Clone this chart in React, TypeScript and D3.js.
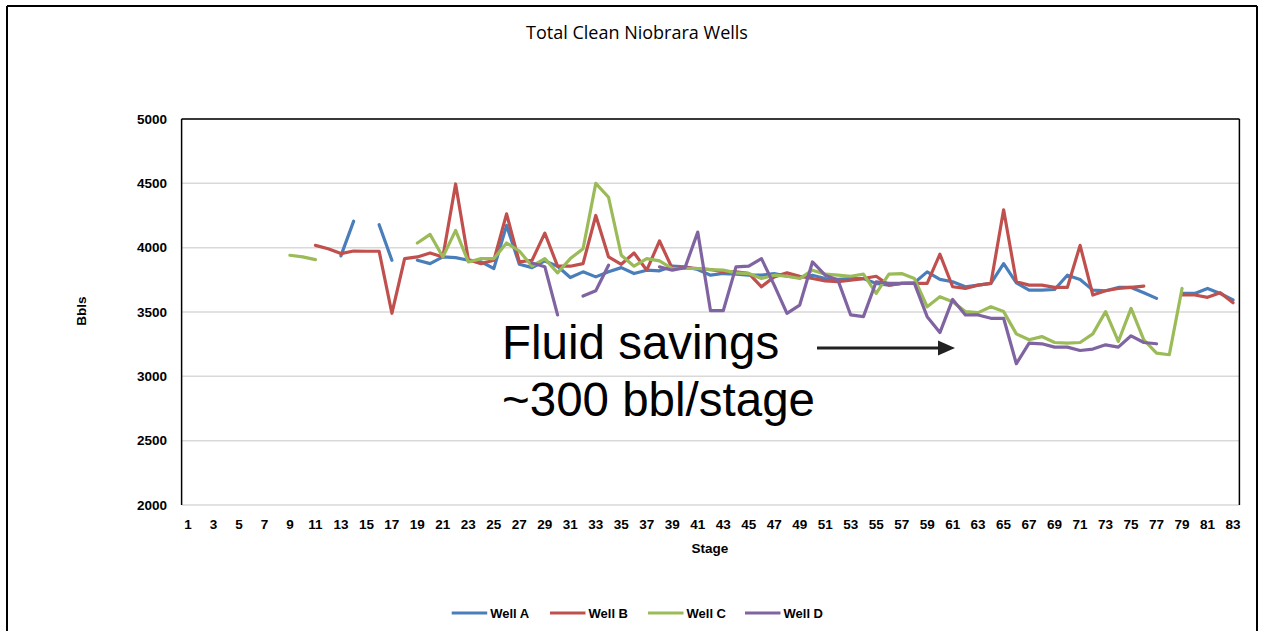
import React from "react";
import * as d3 from "d3";

const N = null;

const stages: number[] = d3.range(1, 84);

const yTicks: number[] = [2000, 2500, 3000, 3500, 4000, 4500, 5000];

const seriesNames: string[] = ["Well A", "Well B", "Well C", "Well D"];
const seriesColors: string[] = ["#4A7EBB", "#C0504D", "#9BBB59", "#8064A2"];

// stages 1..83
const wellA: (number | null)[] = [
  N, N, N, N, N, N, N, N, N, N,
  N, N, 3936, 4206, N, 4178, 3902, N, 3902, 3876,
  3928, 3923, 3902, 3889, 3838, 4173, 3871, 3845, 3897, 3856,
  3768, 3812, 3773, 3812, 3845, 3799, 3825, 3820, 3856, 3851,
  3830, 3786, 3799, 3794, 3786, 3786, 3799, 3778, 3768, 3786,
  3760, 3753, 3760, 3760, 3722, 3709, 3722, 3727, 3812, 3753,
  3735, 3696, 3709, 3722, 3876, 3727, 3670, 3670, 3675, 3786,
  3753, 3670, 3665, 3691, 3691, 3650, 3606, N, 3644, 3644,
  3683, 3644, 3593,
];

const wellB: (number | null)[] = [
  N, N, N, N, N, N, N, N, N, N,
  4018, 3992, 3954, 3974, 3972, 3972, 3490, 3915, 3928, 3959,
  3928, 4495, 3907, 3876, 3902, 4263, 3889, 3902, 4113, 3856,
  3856, 3876, 4250, 3928, 3871, 3959, 3825, 4052, 3838, 3845,
  3838, 3830, 3812, 3812, 3800, 3696, 3773, 3804, 3778, 3760,
  3742, 3735, 3748, 3760, 3778, 3709, 3722, 3722, 3722, 3949,
  3696, 3683, 3709, 3722, 4294, 3735, 3709, 3709, 3691, 3691,
  4018, 3632, 3665, 3683, 3691, 3701, N, N, 3632, 3632,
  3614, 3650, 3572,
];

const wellC: (number | null)[] = [
  N, N, N, N, N, N, N, N, 3941, 3928,
  3907, N, N, N, N, N, N, N, 4036, 4103,
  3928, 4134, 3889, 3915, 3915, 4036, 3974, 3856, 3915, 3804,
  3915, 3992, 4500, 4392, 3941, 3856, 3915, 3897, 3838, 3838,
  3838, 3830, 3825, 3804, 3799, 3760, 3786, 3778, 3760, 3825,
  3794, 3786, 3778, 3794, 3644, 3794, 3799, 3760, 3541, 3619,
  3580, 3503, 3495, 3541, 3503, 3330, 3284, 3309, 3263, 3258,
  3263, 3330, 3503, 3271, 3528, 3284, 3181, 3168, 3683, N,
  N, N, N,
];

const wellD: (number | null)[] = [
  N, N, N, N, N, N, N, N, N, N,
  N, N, N, N, N, N, N, N, N, N,
  N, N, N, N, N, N, N, 3881, 3852, 3477,
  N, 3624, 3665, 3864, N, N, N, 3851, 3825, 3845,
  4121, 3510, 3510, 3851, 3856, 3915, 3709, 3490, 3554, 3889,
  3786, 3748, 3477, 3464, 3735, 3722, 3722, 3722, 3464, 3340,
  3598, 3477, 3477, 3451, 3451, 3098, 3258, 3253, 3227, 3227,
  3201, 3212, 3245, 3227, 3315, 3263, 3253, N, N, N,
  N, N, N,
];

const seriesValues = [wellA, wellB, wellC, wellD];

const title = "Total Clean Niobrara Wells";
const yTitle = "Bbls";
const xTitle = "Stage";
const note1 = "Fluid savings";
const note2 = "~300 bbl/stage";

const W = 1261;
const H = 631;
const plot = { left: 181.6, right: 1239.4, top: 119, bottom: 505 };

export default function App() {
  const x = d3
    .scaleBand<number>()
    .domain(stages)
    .range([plot.left, plot.right])
    .paddingInner(0)
    .paddingOuter(0);
  const cx = (s: number) => (x(s) as number) + x.bandwidth() / 2;
  const y = d3.scaleLinear().domain([2000, 5000]).range([plot.bottom, plot.top]);

  const line = d3
    .line<number | null>()
    .defined((d) => d != null)
    .x((_, i) => cx(stages[i]))
    .y((d) => y(d as number));

  const tickFont = "'Liberation Sans', Arial, sans-serif";

  const legendX = [451.7, 550, 648, 745];

  return (
    <svg
      width={W}
      height={H}
      style={{ position: "absolute", left: 0, top: 0, background: "#fff" }}
      fontFamily={tickFont}
    >
      <rect x={0} y={0} width={W} height={H} fill="#fff" />
      {/* outer frame */}
      <line x1={7} y1={6} x2={1257} y2={6} stroke="#000" strokeWidth={2} />
      <line x1={7} y1={6} x2={7} y2={H} stroke="#000" strokeWidth={2} />
      <line x1={1257} y1={6} x2={1257} y2={H} stroke="#000" strokeWidth={2} />

      <text
        x={637}
        y={39}
        textAnchor="middle"
        fontSize={18}
        fontFamily="'Open Sans', sans-serif"
        fill="#000"
      >
        {title}
      </text>

      {/* gridlines */}
      {yTicks.map((t) => (
        <line
          key={t}
          x1={plot.left}
          x2={plot.right}
          y1={y(t)}
          y2={y(t)}
          stroke="#d9d9d9"
          strokeWidth={1.5}
        />
      ))}
      {/* plot border */}
      <line x1={plot.left} y1={plot.top} x2={plot.right} y2={plot.top} stroke="#000" strokeWidth={1.5} />
      <line x1={plot.left} y1={plot.top} x2={plot.left} y2={plot.bottom} stroke="#000" strokeWidth={1.5} />
      <line x1={plot.right} y1={plot.top} x2={plot.right} y2={plot.bottom} stroke="#000" strokeWidth={1.5} />

      {/* y tick labels */}
      {yTicks.map((t) => (
        <text
          key={t}
          x={167}
          y={y(t)}
          dy="0.35em"
          textAnchor="end"
          fontSize={13.5}
          fontWeight="bold"
          fill="#000"
        >
          {t}
        </text>
      ))}
      {/* x tick labels */}
      {stages
        .filter((s) => s % 2 === 1)
        .map((s) => (
          <text
            key={s}
            x={cx(s)}
            y={529}
            textAnchor="middle"
            fontSize={13.5}
            fontWeight="bold"
            fill="#000"
          >
            {s}
          </text>
        ))}
      <text x={710} y={553} textAnchor="middle" fontSize={13.5} fontWeight="bold" fill="#000">
        {xTitle}
      </text>
      <text
        transform={`translate(86,311) rotate(-90)`}
        textAnchor="middle"
        fontSize={13.5}
        fontWeight="bold"
        fill="#000"
      >
        {yTitle}
      </text>

      {/* series */}
      {seriesValues.map((vals, i) => (
        <path
          key={seriesNames[i]}
          d={line(vals) || ""}
          fill="none"
          stroke={seriesColors[i]}
          strokeWidth={3.2}
          strokeLinejoin="round"
          strokeLinecap="round"
        />
      ))}

      {/* annotation */}
      <text x={502} y={359} fontSize={47.5} fontFamily="'Liberation Sans', Arial, sans-serif" fill="#000">
        {note1}
      </text>
      <text x={502} y={416} fontSize={47.5} fontFamily="'Liberation Sans', Arial, sans-serif" fill="#000">
        {note2}
      </text>
      <line x1={817} y1={348} x2={940} y2={348} stroke="#222" strokeWidth={3} />
      <path d="M938,340.5 L955,348 L938,355.5 Z" fill="#222" />

      {/* legend */}
      {seriesNames.map((n, i) => (
        <g key={n}>
          <line
            x1={legendX[i]}
            x2={legendX[i] + 35.5}
            y1={613}
            y2={613}
            stroke={seriesColors[i]}
            strokeWidth={3.2}
          />
          <text x={legendX[i] + 38.5} y={613} dy="0.35em" fontSize={13} fontWeight="bold" fill="#000">
            {n}
          </text>
        </g>
      ))}
    </svg>
  );
}
